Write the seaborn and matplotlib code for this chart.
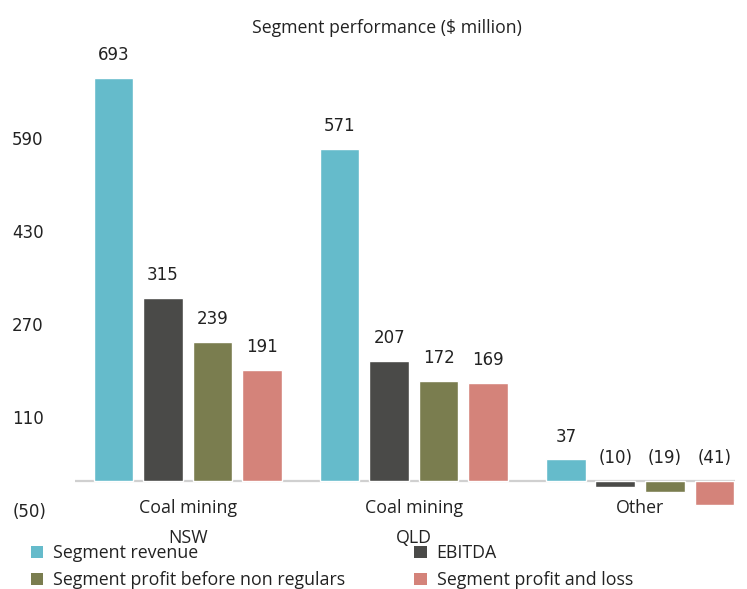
import matplotlib
matplotlib.use("Agg")
import matplotlib.pyplot as plt
import seaborn as sns
import pandas as pd
from matplotlib.patches import Patch

segments = ["Coal mining\nNSW", "Coal mining\nQLD", "Other"]
series = ["Segment revenue", "EBITDA", "Segment profit before non regulars", "Segment profit and loss"]
revenue = [693, 571, 37]
ebitda = [315, 207, -10]
profit_before = [239, 172, -19]
profit_loss = [191, 169, -41]
yticks = [-50, 110, 270, 430, 590]
colors = ["#65BBCB", "#4A4A48", "#7A7D4F", "#D4837A"]

sns.set_theme(style="white")
plt.rcParams["font.family"] = ["Open Sans", "DejaVu Sans"]
NUM_FONT = ["DejaVu Sans"]
TXT = "#222222"

rows = []
for name, vals in zip(series, [revenue, ebitda, profit_before, profit_loss]):
    for seg, v in zip(segments, vals):
        rows.append({"segment": seg, "series": name, "value": v})
df = pd.DataFrame(rows)

fig = plt.figure(figsize=(7.47, 5.89), dpi=100)
ax = fig.add_axes([0.100, 0.134, 0.884, 0.76])

sns.barplot(data=df, x="segment", y="value", hue="series", hue_order=series,
            order=segments, palette=colors, width=0.876, gap=0.2,
            legend=False, ax=ax, saturation=1)

for cont in ax.containers:
    for bar in cont:
        v = bar.get_height()
        x = bar.get_x() + bar.get_width() / 2
        lab = f"{v:.0f}" if v >= 0 else f"({-v:.0f})"
        ax.annotate(lab, (x, max(v, 0)), xytext=(0, 10), textcoords="offset points",
                    ha="center", va="bottom", fontsize=12, color=TXT, family=NUM_FONT)

ax.axhline(0, color="#D0D0D0", lw=1.6, zorder=0)
ax.set_xlim(-0.5, 2.42)
ax.set_ylim(-50, 720)
ax.set_yticks(yticks)
ax.set_yticklabels([f"({-t})" if t < 0 else str(t) for t in yticks])
for lbl in ax.get_yticklabels():
    lbl.set_horizontalalignment("left")
    lbl.set_family(NUM_FONT)
ax.tick_params(axis="y", length=0, pad=45, labelsize=12, labelcolor=TXT)
ax.tick_params(axis="x", length=0, pad=-8, labelsize=12.8, labelcolor=TXT)
for lbl in ax.get_xticklabels():
    lbl.set_linespacing(1.85)
ax.set_xlabel("")
ax.set_ylabel("")
for s in ax.spines.values():
    s.set_visible(False)

fig.text(0.518, 0.953, "Segment performance ($ million)", ha="center", va="center",
         fontsize=12.7, color=TXT)

order = [0, 2, 1, 3]
handles = [Patch(facecolor=colors[i], edgecolor="none") for i in order]
labels = [series[i] for i in order]
leg = fig.legend(handles, labels, loc="upper left", bbox_to_anchor=(0.041, 0.076),
                 ncol=2, frameon=False, fontsize=12.8, handlelength=0.7, handleheight=0.7,
                 handletextpad=0.55, columnspacing=3.9, labelspacing=0.5,
                 borderpad=0, borderaxespad=0)
for t in leg.get_texts():
    t.set_color(TXT)

fig.savefig("out.png", dpi=100)
